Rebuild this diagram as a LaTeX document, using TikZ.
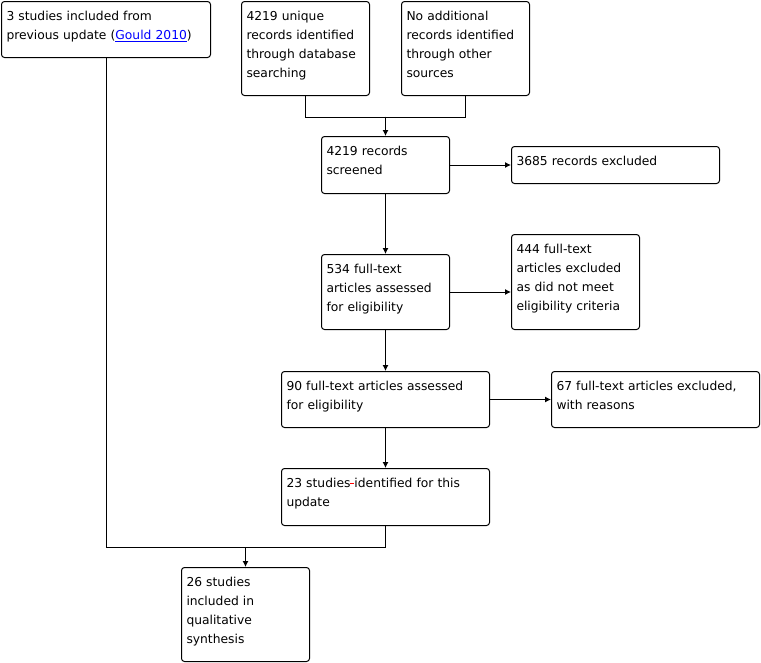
\documentclass[tikz,border=0pt]{standalone}
\usepackage{fontspec}
\newfontfamily\flowfont{DejaVu Sans}
\usetikzlibrary{arrows.meta}
\tikzset{
  stage/.style={draw, line width=1pt, rounded corners=3pt, anchor=north west,
    align=left, inner xsep=5pt, inner ysep=0pt, text height=19pt,
    font=\flowfont\fontsize{12.3}{19}\selectfont},
  link/.style={line width=1pt},
  flow/.style={line width=1pt, -{Latex[length=6pt,width=6pt]}},
}
\begin{document}
\begin{tikzpicture}[x=1pt,y=-1pt]
    \useasboundingbox (0,0) rectangle (761,662);

    % Nodes
    \node[stage, text width=199pt, text depth=37pt] (prev) at (1,1)
        {3 studies included from\\previous update (\textcolor{blue}{\underline{Gould 2010}})};
    \node[stage, text width=118pt, text depth=75pt] (db) at (241,1)
        {4219 unique\\records identified\\through database\\searching};
    \node[stage, text width=118pt, text depth=75pt] (other) at (401,1)
        {No additional\\records identified\\through other\\sources};

    \node[stage, text width=118pt, text depth=38pt] (screen) at (321,136)
        {4219 records\\screened};
    \node[stage, text width=198pt, text depth=18pt] (excl) at (511,146)
        {3685 records excluded};

    \node[stage, text width=118pt, text depth=56pt] (full) at (321,254)
        {534 full-text\\articles assessed\\for eligibility};
    \node[stage, text width=118pt, text depth=76pt] (fullex) at (511,234)
        {444 full-text\\articles excluded\\as did not meet\\eligibility criteria};

    \node[stage, text width=198pt, text depth=37pt] (elig) at (281,371)
        {90 full-text articles assessed\\for eligibility};
    \node[stage, text width=198pt, text depth=37pt] (eligex) at (551,371)
        {67 full-text articles excluded,\\with reasons};

    \node[stage, text width=198pt, text depth=38pt] (upd) at (281,468)
        {23 studies\textcolor{red}{\rule[3.5pt]{4pt}{1pt}}identified for this\\update};
    \node[stage, text width=118pt, text depth=75pt] (synth) at (181,567)
        {26 studies\\included in\\qualitative\\synthesis};

    % Junctions
    \coordinate (mergeA) at (screen.north |- 0,116.5);
    \coordinate (mergeB) at (synth.north |- 0,547.5);

    % Edges
    \draw[link] (db.south) -- ++(0,21.5) -| (other.south);
    \draw[flow] (mergeA) -- (screen.north);
    \draw[flow] (screen.east) -- (excl.west);
    \draw[flow] (screen.south) -- (full.north);
    \draw[flow] (full.east) -- (full.east -| fullex.west);
    \draw[flow] (full.south) -- (elig.north);
    \draw[flow] (elig.east) -- (eligex.west);
    \draw[flow] (elig.south) -- (upd.north);

    \draw[link] (prev.south) |- (mergeB) -| (upd.south);
    \draw[flow] (mergeB) -- (synth.north);
\end{tikzpicture}
\end{document}
